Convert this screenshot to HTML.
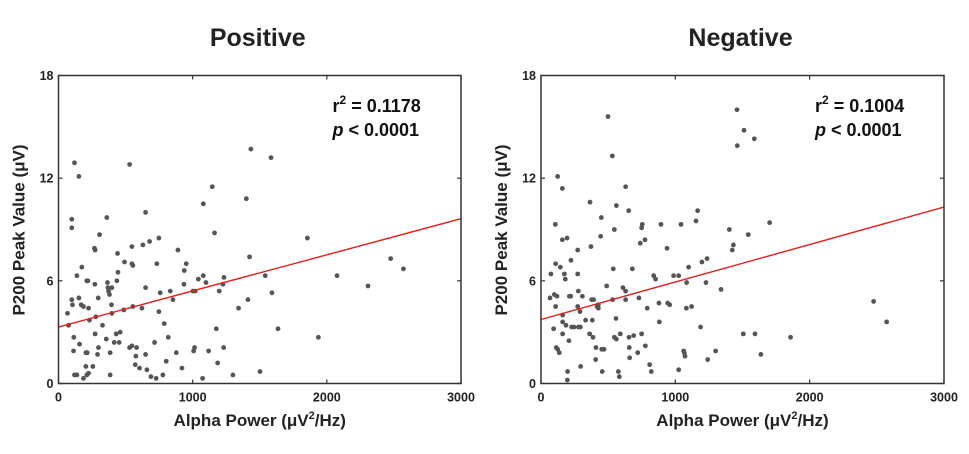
<!DOCTYPE html>
<html><head><meta charset="utf-8"><style>
body{margin:0;background:#fff;width:969px;height:449px;overflow:hidden}
svg text{font-family:"Liberation Sans",Arial,sans-serif}
</style></head><body>
<svg id="chart" width="969" height="449" viewBox="0 0 969 449" xmlns="http://www.w3.org/2000/svg"></svg>
<script>
const xTicks=[0,1000,2000,3000];
const yTicks=[0,6,12,18];
const panelTitles=["Positive","Negative"];
const r2Labels=["0.1178","0.1004"];
const fitIntercepts=[3.3,3.74];
const fitSlopes=[0.00211,0.00219];
const posX=[119,152,99,99,530,360,306,649,679,547,629,268,273,174,137,211,219,271,440,492,547,554,443,365,435,368,398,373,380,296,152,99,104,169,186,224,395,398,278,231,67,75,328,273,114,157,112,204,214,298,291,385,356,430,460,415,452,487,554,622,530,547,582,577,572,604,649,659,689,728,778,716,748,758,649,733,748,788,803,818,833,853,878,890,920,937,952,935,1002,1019,1042,1079,1099,1007,1014,1119,1079,1146,1163,1176,1186,1198,1233,1226,1231,1074,1300,1342,1400,1434,1424,1412,1502,1541,1584,1591,1636,1855,1937,2076,2307,2476,2571,119,137,186,211,224,204,256,385];
const posY=[12.9,12.1,9.6,9.1,12.8,9.7,8.7,10.0,8.3,8.0,8.1,7.9,7.8,6.8,6.3,6.0,6.0,5.8,7.6,7.1,7.0,6.9,6.5,5.9,6.0,5.6,5.6,5.4,5.2,5.0,5.0,4.9,4.6,4.6,4.5,4.4,4.6,4.1,3.9,3.7,4.1,3.4,3.4,2.9,2.7,2.3,1.9,1.8,1.8,2.1,1.7,1.8,2.6,2.9,3.0,2.4,2.4,4.3,4.5,4.4,2.1,2.2,2.1,1.6,1.1,0.9,1.7,0.8,0.4,0.3,0.5,2.4,4.2,5.3,5.6,7.0,8.5,3.5,1.3,2.7,5.4,4.9,1.8,7.8,0.9,6.6,7.0,5.8,5.4,5.4,6.1,6.3,5.9,1.9,2.1,1.9,10.5,11.5,8.8,3.2,1.2,5.4,6.2,5.8,2.1,0.3,0.5,4.4,10.8,13.7,7.4,4.9,0.7,6.3,13.2,5.3,3.2,8.5,2.7,6.3,5.7,7.3,6.7,0.5,0.5,0.3,0.5,0.6,1.0,1.0,0.5];
const negX=[499,531,124,159,365,561,449,630,653,107,159,194,273,223,372,444,546,754,749,774,739,893,938,1042,1154,1166,74,109,144,174,181,273,489,538,680,610,630,630,533,67,99,119,109,211,221,278,308,273,290,377,392,417,427,427,161,161,186,228,246,278,293,332,382,94,161,208,114,124,136,362,387,409,407,452,469,456,295,198,196,558,546,561,590,576,583,655,690,657,660,720,729,749,777,791,809,821,839,853,878,881,943,958,987,1025,1025,1062,1067,1072,1084,1082,1099,1121,1188,1198,1236,1228,1241,1300,1340,1402,1424,1432,1459,1461,1511,1506,1543,1588,1593,1637,1702,1858,2476,2573];
const negY=[15.6,13.3,12.1,11.4,10.6,10.4,9.7,11.5,10.1,9.3,8.4,8.5,7.8,7.2,8.0,8.6,9.0,9.3,9.1,8.4,8.2,9.3,7.9,9.3,9.5,10.1,6.4,7.0,6.8,6.4,6.1,6.4,5.7,6.7,6.7,5.6,5.4,4.9,4.9,5.0,5.2,5.1,4.5,5.1,5.1,5.4,5.1,4.5,4.2,4.9,4.9,4.5,4.4,4.6,4.0,3.6,3.4,3.3,3.3,3.3,3.3,3.7,3.7,3.2,2.9,2.5,2.1,2.0,1.8,2.9,2.7,2.1,1.4,2.0,2.0,0.7,1.0,0.7,0.2,3.8,2.7,2.6,2.9,0.7,0.4,2.7,2.8,2.1,1.5,1.8,5.0,2.9,2.2,4.4,1.1,0.7,6.3,6.1,4.7,3.6,4.7,4.6,6.3,6.3,0.8,1.9,1.8,1.6,5.9,4.4,6.8,4.5,3.3,7.1,7.3,5.9,1.4,1.9,5.5,9.0,7.8,8.1,16.0,13.9,14.8,2.9,8.7,14.3,2.9,1.7,9.4,2.7,4.8,3.6];
const xsData=[posX,negX], ysData=[posY,negY];

const NS="http://www.w3.org/2000/svg";
const svg=document.getElementById('chart');
function mk(tag,attrs,parent,text){const e=document.createElementNS(NS,tag);for(const k in attrs)e.setAttribute(k,attrs[k]);if(text!==undefined)e.textContent=text;(parent||svg).appendChild(e);return e;}
const panels=[{x0:58.5,x1:461},{x0:541,x1:944}];
const Y0=383.5,Y1=75.5;
panels.forEach((p,i)=>{
  const sx=v=>p.x0+(v/3000)*(p.x1-p.x0);
  const sy=v=>Y0-(v/18)*(Y0-Y1);
  const g=mk('g',{});
  
  
  const cx=(p.x0+p.x1)/2;
  const t=mk('text',{x:cx-2,y:46,'text-anchor':'middle','font-size':25,'font-weight':'bold',fill:'#222'},g,panelTitles[i]);
  
  
  // ticks
  xTicks.forEach(v=>{
    const x=sx(v);
    mk('line',{x1:x,x2:x,y1:Y0,y2:Y0-4,stroke:'#333','stroke-width':1.2},g);
    mk('line',{x1:x,x2:x,y1:Y1,y2:Y1+4,stroke:'#333','stroke-width':1.2},g);
    const tl=mk('text',{x:x,y:Y0+18,'text-anchor':'middle','font-size':12.5,'font-weight':'bold',fill:'#222'},g,String(v));
    
    
  });
  yTicks.forEach(v=>{
    const y=sy(v);
    mk('line',{x1:p.x0,x2:p.x0+4,y1:y,y2:y,stroke:'#333','stroke-width':1.2},g);
    mk('line',{x1:p.x1,x2:p.x1-4,y1:y,y2:y,stroke:'#333','stroke-width':1.2},g);
    const tl=mk('text',{x:p.x0-5,y:y+4.5,'text-anchor':'end','font-size':12.5,'font-weight':'bold',fill:'#222'},g,String(v));
    
    
  });
  // points
  xsData[i].forEach((xv,k)=>{
    const c=mk('circle',{cx:sx(xv),cy:sy(ysData[i][k]),r:2.4,fill:'#555'},g);
    
    
  });
  // fit line
  const fl=mk('line',{x1:sx(0),y1:sy(fitIntercepts[i]),x2:sx(3000),y2:sy(fitIntercepts[i]+fitSlopes[i]*3000),stroke:'#e0201b','stroke-width':1.4},g);
  
  
  const fr=mk('rect',{x:p.x0,y:Y1,width:p.x1-p.x0,height:Y0-Y1,fill:'none',stroke:'#333','stroke-width':1.5},g);
  
  
  // annotation
  const ax=p.x0+274;
  const a1=mk('text',{x:ax,y:112,'font-size':18,'font-weight':'bold',fill:'#111'},g);
  
  
  mk('tspan',{},a1,'r');
  mk('tspan',{dy:-8,'font-size':12},a1,'2');
  mk('tspan',{dy:8},a1,' = '+r2Labels[i]);
  const a2=mk('text',{x:ax,y:136,'font-size':18,'font-weight':'bold',fill:'#111'},g);
  
  
  mk('tspan',{'font-style':'italic'},a2,'p');
  mk('tspan',{},a2,' < 0.0001');
  // axis titles
  const xl=mk('text',{x:cx,y:426,'text-anchor':'middle','font-size':17,'font-weight':'bold',fill:'#222'},g);
  
  
  mk('tspan',{},xl,'Alpha Power (μV');
  mk('tspan',{dy:-7,'font-size':11},xl,'2');
  mk('tspan',{dy:7},xl,'/Hz)');
  const yx=p.x0-34;
  const yl=mk('text',{x:yx,y:230,'text-anchor':'middle','font-size':17,'font-weight':'bold',fill:'#222',transform:`rotate(-90 ${yx} 230)`},g,'P200 Peak Value (μV)');
  
  
});
</script>
</body></html>
